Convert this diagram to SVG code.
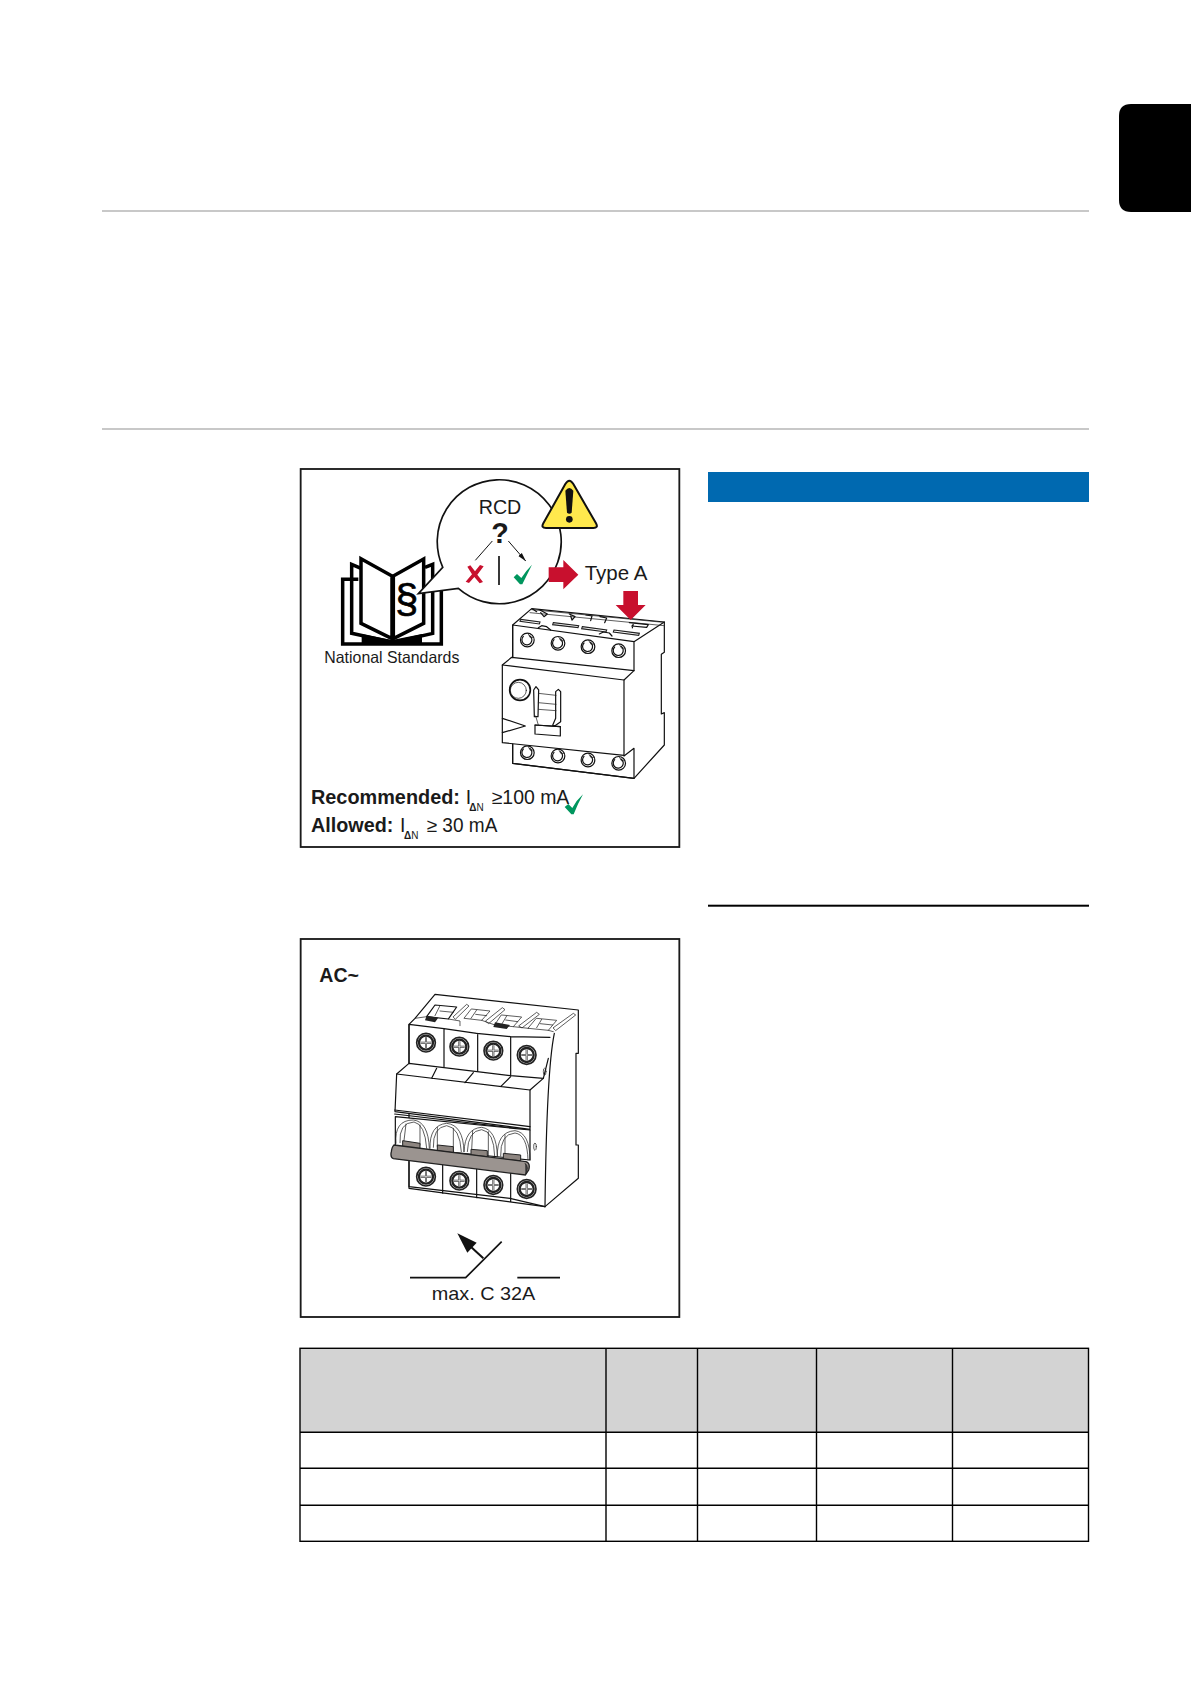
<svg xmlns="http://www.w3.org/2000/svg" xmlns:xlink="http://www.w3.org/1999/xlink" width="1191" height="1684" viewBox="0 0 1191 1684">
<style>
text{font-family:"Liberation Sans",Arial,sans-serif;fill:#1a1a1a}
.b{font-weight:700}
.fr{fill:#fff;stroke:#1a1a1a;stroke-width:5.5}
.l{fill:none;stroke:#111;stroke-width:3.6;stroke-linejoin:round;stroke-linecap:round}
.t{fill:none;stroke:#222;stroke-width:2.2;stroke-linejoin:round;stroke-linecap:round}
.w{fill:#fff;stroke:#111;stroke-width:3.6;stroke-linejoin:round}
.k{fill:none;stroke:#000;stroke-width:10.5;stroke-linejoin:miter}
.kw{fill:#fff;stroke:#000;stroke-width:10.5;stroke-linejoin:miter}
.red{fill:#c8102e}
.grn{fill:#00965e}
.rule{fill:#c8c8c8}
.cell{fill:none;stroke:#000;stroke-width:1.4}
</style>
<defs>
<marker id="ah" viewBox="0 0 10 10" refX="9.5" refY="5" markerWidth="9" markerHeight="9" orient="auto"><path d="M0 2.4L10 5L0 7.6z" fill="#111"/></marker>
<g id="sc1"><circle r="20.5" class="w"/><path class="l" d="M-12 -11A15 15 0 1 0 7 -13"/><path class="t" d="M2 -19L9 -7L18 -8"/></g>
<g id="sc2"><circle r="28" fill="#fff" stroke="#222" stroke-width="5"/><circle r="21" fill="#fff" stroke="#222" stroke-width="7"/><path d="M-16 0H16M0 -16V16" stroke="#333" stroke-width="6"/><path d="M-16 0H16M0 -16V16" stroke="#fff" stroke-width="2"/></g>
</defs>
<rect width="1191" height="1684" fill="#fff"/>
<g id="page">
<path id="tab" d="M1191 104H1131Q1119 104 1119 116V200Q1119 212 1131 212H1191z" fill="#000"/>
<rect class="rule" x="102" y="210" width="987" height="2"/>
<rect class="rule" x="102" y="428" width="987" height="2"/>
<rect x="708" y="472" width="381" height="30" fill="#0069b0"/>
<rect x="708" y="904.7" width="381" height="2" fill="#000"/>
</g>
<g id="illustration-rcd" transform="translate(290 460) scale(.33333)">
<rect class="fr" x="32" y="27" width="1136" height="1134"/>
<g id="book">
<path class="k" d="M205 358H158V552H454V390"/>
<path class="k" d="M213 325L185 313V520L300 545M405 322L428 313V520L320 545"/>
<path class="kw" d="M213 296L306 348V536L213 490z"/>
<path class="kw" d="M401 297L310 348V536L401 490z"/>
<path d="M215 522L306 540L396 522V552H215z" fill="#000"/>
<text x="350" y="459" font-size="124" text-anchor="middle" style="fill:#000;stroke:#000;stroke-width:2">§</text>
<text x="103" y="610" font-size="47" textLength="405" lengthAdjust="spacingAndGlyphs">National Standards</text>
</g>
<g id="bubble">
<path d="M458.3 322A186 186 0 1 1 505 385L385 401z" fill="#fff" stroke="#111" stroke-width="5" stroke-linejoin="miter"/>
<text x="630" y="163" font-size="59" text-anchor="middle">RCD</text>
<text x="630" y="250" font-size="86" class="b" text-anchor="middle">?</text>
<path d="M607 243L556 301M655 243L707 303" stroke="#111" stroke-width="3" fill="none" marker-end="url(#ah)"/>
<rect x="624.5" y="288" width="5" height="87" fill="#111"/>
<path d="M532 320L541 316L555 334L570 315L581 319L562 344L579 366L569 370L553 351L537 369L527 365L546 343z" class="red"/>
<path d="M671 352L681 342L694 354Q707 333 726 314Q712 342 697 373H690z" class="grn"/>
</g>
<g id="warning">
<path d="M826 72Q838 52 850 72L918 190Q926 204 910 204H768Q752 204 760 190z" fill="#ffe94d" stroke="#111" stroke-width="6" stroke-linejoin="round"/>
<path d="M826 92Q838 76 850 92L845 158Q838 164 831 158z" fill="#111"/>
<circle cx="838" cy="178" r="10" fill="#111"/>
</g>
<path id="arrow-type" class="red" d="M776 322H820V300L865 344L820 388V366H776z"/>
<text x="884" y="361" font-size="59" textLength="188" lengthAdjust="spacingAndGlyphs">Type A</text>
<g id="rcd-device">
<path class="w" d="M668 495L725 446L1123 486V577L1114 583V762L1123 758V855L1032 955L668 910z"/>
<path class="l" d="M668 495L1032 545L1123 486M1032 545V632M668 495V594"/>
<path class="w" d="M637 615L665 592L1032 632L1002 660V886L637 848z"/>
<path class="l" d="M637 615L1002 660"/>
<path class="l" d="M668 852V910L1032 955V865L1002 888"/>
<path d="M692 478L750 486L748 492L690 484zM790 488L866 497L864 503L788 494zM877 500L950 510L948 516L875 506zM972 510L1048 520L1046 526L970 516z" fill="#fff" stroke="#222" stroke-width="3.4"/>
<path class="t" d="M725 449L1120 487M720 458L1122 497"/>
<path class="l" d="M728 447L740 455M750 450L772 462L762 470L752 458M838 462L855 470L846 480L842 468M888 465L906 468L902 482M930 470L950 474L944 488M1018 488L1075 494L1070 502L1025 498M1030 490L1027 504M745 503L755 497L770 500L782 510M928 522L940 516L958 519L966 528"/>
<use xlink:href="#sc1" href="#sc1" x="712" y="540"/>
<use xlink:href="#sc1" href="#sc1" x="804" y="550"/>
<use xlink:href="#sc1" href="#sc1" x="894" y="560"/>
<use xlink:href="#sc1" href="#sc1" x="986" y="572"/>
<use xlink:href="#sc1" href="#sc1" x="712" y="878"/>
<use xlink:href="#sc1" href="#sc1" x="804" y="888"/>
<use xlink:href="#sc1" href="#sc1" x="894" y="900"/>
<use xlink:href="#sc1" href="#sc1" x="986" y="910"/>
<circle cx="690" cy="690" r="31" fill="#fff" stroke="#111" stroke-width="5"/>
<circle cx="685" cy="691" r="24" class="t"/>
<path class="l" d="M637 775L706 798L637 818"/>
<path class="w" d="M735 795L811 800V828L735 822z"/>
<path class="l" d="M735 795L811 800"/>
<path class="l" d="M731 690L738 680L746 690L744 770H733zM797 695L805 688L812 695V785L795 797L788 796L797 775z"/>
<path class="t" d="M745 700L798 706M745 728L798 733M745 748L798 752M737 768L745 795"/>
</g>
<path id="arrow-down" class="red" d="M1000 393H1044V435H1067L1022 480L977 435H1000z"/>
<g id="ratings">
<text x="63" y="1032" font-size="58" class="b" textLength="447" lengthAdjust="spacingAndGlyphs">Recommended:</text>
<text x="527" y="1032" font-size="58">I</text>
<text x="538" y="1053" font-size="30"><tspan class="b">Δ</tspan>N</text>
<text x="605" y="1032" font-size="58" textLength="233" lengthAdjust="spacingAndGlyphs">≥100 mA</text>
<path class="grn" d="M824 1041L835 1032L847 1044Q859 1021 879 1003Q864 1030 851 1063H844z"/>
<text x="63" y="1115" font-size="58" class="b" textLength="247" lengthAdjust="spacingAndGlyphs">Allowed:</text>
<text x="330" y="1115" font-size="58">I</text>
<text x="342" y="1136" font-size="30"><tspan class="b">Δ</tspan>N</text>
<text x="410" y="1115" font-size="58" textLength="212" lengthAdjust="spacingAndGlyphs">≥ 30 mA</text>
</g>
</g>
<g id="illustration-breaker" transform="translate(290 930) scale(.33333)">
<rect class="fr" x="32" y="27" width="1136" height="1134"/>
<text x="88" y="157" font-size="58" class="b" textLength="119" lengthAdjust="spacingAndGlyphs">AC~</text>
<g id="breaker">
<path class="w" d="M357 283L375 265L435 193L865 240V370H858V645H865V745L765 830L660 805L357 770z"/>
<g transform="translate(285 165)">
<path class="w" d="M150 60L215 66L190 102L125 95z"/>
<path class="t" d="M165 62L150 92M165 78L205 82M90 100L125 95M190 102L225 108V122M260 72L315 78L290 106L238 100zM275 75L258 100M272 88L305 92M350 90L410 96L385 125L330 120zM365 93L350 118M362 105L398 110M455 100L515 106L490 136L430 130zM470 103L455 128M465 116L503 120M290 106L330 120M385 125L430 130M490 136L505 140"/>
<path class="t" d="M205 95L245 58L252 63L212 102zM302 108L352 68L360 74L312 115zM402 122L455 82L463 88L412 128zM505 128L565 85L572 90L513 136z"/>
<path d="M125 92L160 98L150 112L120 106z" fill="#222"/>
<path d="M330 112L375 120L365 132L325 126z" fill="#222"/>
</g>
<path class="l" d="M357 283V400M357 695V775L765 830M357 283L462 296M462 296V410M563 310V425M662 320V437M458 695V790M560 710V803M662 722V815M462 296L560 310L662 320L780 322"/>
<path class="w" d="M320 432L357 400L662 437L760 445L720 480V598L315 545z"/>
<path class="l" d="M320 432L720 480M440 415L425 445M550 428L525 458M662 440L632 470M760 445L775 385M793 310Q770 420 765 830"/>
<path class="l" d="M314 540L720 590M314 552L720 600"/>
<path class="w" d="M316 560L720 600V690L316 650z"/>
<path class="t" d="M318 640Q312 570 370 570Q415 575 418 655M330 638Q326 578 372 576Q405 582 410 655M342 632L348 582M390 645V585M420 655Q418 585 470 580Q520 585 522 665M430 652Q428 592 470 587Q510 592 514 665M442 650V592M490 665V595M522 665Q525 595 575 592Q620 598 622 678M532 665Q534 602 575 599Q612 604 614 678M545 660L548 602M595 680V605M622 680Q620 605 675 602Q720 608 720 690M632 678Q630 612 675 609Q712 614 714 690M645 675V615"/>
<path d="M338 632L390 640V660L338 652zM442 645L490 650V668L442 662zM543 658L592 662V680L543 675zM640 670L692 675V692L640 688z" fill="#8d8580" stroke="#222" stroke-width="3"/>
<path d="M312 645L708 695Q722 700 716 720L706 735L310 686Q300 682 304 665Q306 650 312 645z" fill="#9b9490" stroke="#222" stroke-width="4"/>
<path d="M705 700Q718 710 706 735" fill="#444" stroke="#222" stroke-width="3"/>
<ellipse cx="735" cy="650" rx="4" ry="11" class="t"/>
<ellipse cx="764" cy="425" rx="4" ry="11" class="t"/>
<use xlink:href="#sc2" href="#sc2" x="408" y="338"/>
<use xlink:href="#sc2" href="#sc2" x="508" y="350"/>
<use xlink:href="#sc2" href="#sc2" x="610" y="362"/>
<use xlink:href="#sc2" href="#sc2" x="710" y="375"/>
<use xlink:href="#sc2" href="#sc2" x="408" y="740"/>
<use xlink:href="#sc2" href="#sc2" x="508" y="752"/>
<use xlink:href="#sc2" href="#sc2" x="610" y="765"/>
<use xlink:href="#sc2" href="#sc2" x="710" y="777"/>
</g>
<g id="symbol">
<path d="M360 1043H527L635 935M682 1043H810" fill="none" stroke="#111" stroke-width="5"/>
<path d="M580 985L540 948" stroke="#111" stroke-width="6"/>
<path d="M502 910L560 938L532 968z" fill="#111"/>
<text x="425" y="1110" font-size="56" textLength="311" lengthAdjust="spacingAndGlyphs">max. C 32A</text>
</g>
</g>
<g id="table">
<rect x="300" y="1348.3" width="788.5" height="84" fill="#d3d3d3"/>
<rect class="cell" x="300" y="1348.3" width="788.5" height="193"/>
<path class="cell" d="M300 1432.3H1088.5M300 1468.3H1088.5M300 1505.3H1088.5M606 1348.3V1541.3M697.5 1348.3V1541.3M816.5 1348.3V1541.3M952.5 1348.3V1541.3"/>
</g>
</svg>
